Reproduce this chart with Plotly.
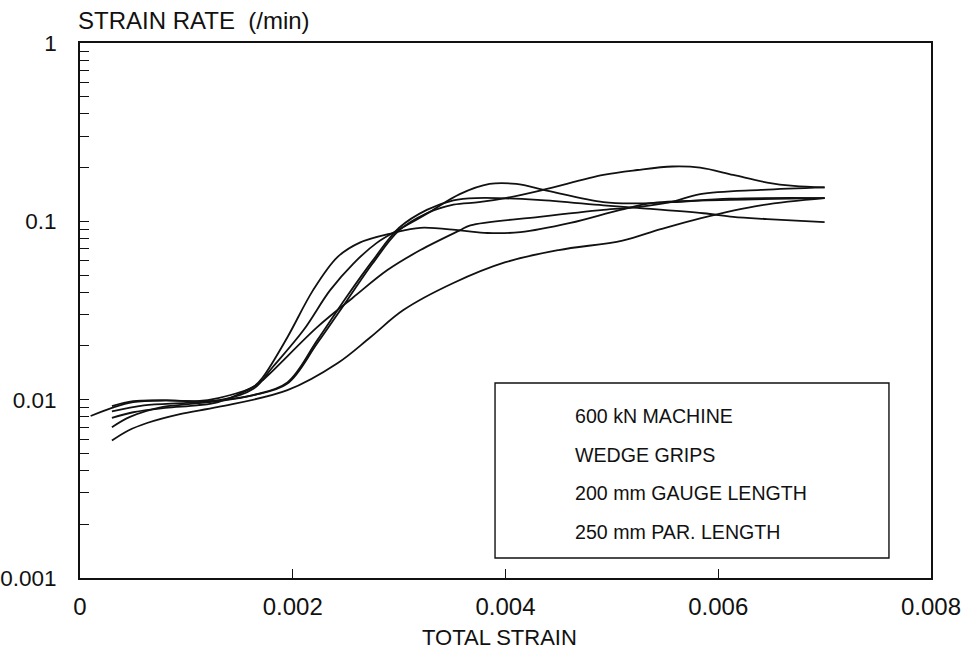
import plotly.graph_objects as go

# ---- data ----
c1_x = [0.0001, 0.0003, 0.0005, 0.0008, 0.0011, 0.0013, 0.00163, 0.00172, 0.00195, 0.00219, 0.00242, 0.00263, 0.00294, 0.0032, 0.00357, 0.00383, 0.00414, 0.00461, 0.00508, 0.00539, 0.00611, 0.007]
c1_y = [0.0081, 0.0090, 0.0097, 0.0099, 0.0098, 0.0102, 0.0118, 0.0134, 0.0224, 0.041, 0.063, 0.076, 0.086, 0.092, 0.089, 0.086, 0.087, 0.098, 0.116, 0.127, 0.132, 0.135]

p2_x = [0.0003, 0.0005, 0.0008, 0.0013, 0.00163, 0.00181, 0.0021, 0.00235, 0.00257, 0.00279, 0.00307, 0.00329, 0.00357, 0.00385, 0.00410, 0.00440, 0.00492, 0.00524, 0.00557, 0.00611, 0.007]
p2_y = [0.0092, 0.0098, 0.0099, 0.0099, 0.0115, 0.0152, 0.0245, 0.041, 0.058, 0.0757, 0.095, 0.113, 0.142, 0.162, 0.162, 0.148, 0.128, 0.126, 0.128, 0.134, 0.135]

p1_x = [0.0003, 0.0006, 0.001, 0.0013, 0.00163, 0.00195, 0.00223, 0.00251, 0.00275, 0.003, 0.00326, 0.00351, 0.00375, 0.0040, 0.00435, 0.00492, 0.00524, 0.00557, 0.00583, 0.00614, 0.00646, 0.00671, 0.007]
p1_y = [0.0086, 0.0093, 0.0096, 0.0099, 0.0106, 0.0123, 0.0207, 0.036, 0.058, 0.089, 0.111, 0.124, 0.128, 0.135, 0.150, 0.182, 0.194, 0.203, 0.200, 0.182, 0.165, 0.158, 0.155]

e_x = [0.0003, 0.00047, 0.00078, 0.001, 0.0013, 0.00163, 0.00195, 0.00223, 0.00251, 0.00275, 0.003, 0.00326, 0.00351, 0.00372, 0.0043, 0.00492, 0.00524, 0.00586, 0.00614, 0.00646, 0.007]
e_y = [0.0070, 0.0080, 0.0091, 0.0094, 0.0098, 0.0106, 0.0125, 0.0215, 0.038, 0.060, 0.092, 0.116, 0.131, 0.135, 0.132, 0.123, 0.119, 0.111, 0.106, 0.103, 0.099]

f_x = [0.0003, 0.0005, 0.0008, 0.0011, 0.0013, 0.00163, 0.00172, 0.00223, 0.00257, 0.00289, 0.0032, 0.00357, 0.00367, 0.00432, 0.00492, 0.00524, 0.00555, 0.00583, 0.0064, 0.007]
f_y = [0.0079, 0.0085, 0.0090, 0.0093, 0.0097, 0.0118, 0.0129, 0.0255, 0.0375, 0.0533, 0.069, 0.089, 0.095, 0.106, 0.116, 0.120, 0.128, 0.142, 0.150, 0.155]

low_x = [0.0003, 0.00045, 0.00063, 0.00094, 0.0013, 0.00195, 0.00242, 0.00273, 0.00304, 0.00351, 0.0040, 0.0045, 0.0051, 0.00545, 0.00583, 0.0064, 0.007]
low_y = [0.0059, 0.0067, 0.0074, 0.0083, 0.0091, 0.0113, 0.016, 0.0224, 0.0318, 0.0451, 0.059, 0.069, 0.078, 0.090, 0.104, 0.123, 0.135]

x_ticks = [0, 0.002, 0.004, 0.006, 0.008]
x_tick_labels = ["0", "0.002", "0.004", "0.006", "0.008"]
y_ticks = [0.001, 0.01, 0.1, 1]
y_tick_labels = ["0.001", "0.01", "0.1", "1"]
note_lines = ["600 kN MACHINE", "WEDGE GRIPS", "200 mm GAUGE LENGTH", "250 mm PAR. LENGTH"]

FONT = "Liberation Sans, Arial, Helvetica, sans-serif"
INK = "#111111"

fig = go.Figure()
for xs, ys in [(c1_x, c1_y), (p2_x, p2_y), (p1_x, p1_y), (e_x, e_y), (f_x, f_y), (low_x, low_y)]:
    fig.add_trace(go.Scatter(x=xs, y=ys, mode="lines",
                             line=dict(color=INK, width=1.8, shape="spline", smoothing=1.0),
                             showlegend=False, hoverinfo="skip"))

fig.update_layout(
    width=963, height=658,
    margin=dict(l=80, r=32, t=43, b=80, autoexpand=False),
    paper_bgcolor="white", plot_bgcolor="white",
    font=dict(family=FONT, color=INK, size=24),
    showlegend=False,
)
fig.update_xaxes(
    range=[0, 0.008], tickvals=x_ticks, ticktext=x_tick_labels,
    ticks="inside", ticklen=9, tickwidth=1.3, tickcolor=INK,
    showline=True, linecolor=INK, linewidth=1.7, mirror=True,
    showgrid=False, zeroline=False, ticklabelstandoff=6, automargin=False,
    tickfont=dict(size=24, family=FONT, color=INK),
)
fig.update_yaxes(
    type="log", range=[-3, 0], tickvals=y_ticks, ticktext=y_tick_labels,
    ticks="inside", ticklen=9, tickwidth=1.3, tickcolor=INK,
    minor=dict(ticks="inside", ticklen=9, tickwidth=1.3, tickcolor=INK, dtick="D1", showgrid=False),
    showline=True, linecolor=INK, linewidth=1.7, mirror=True,
    showgrid=False, zeroline=False, ticklabelstandoff=17, automargin=False,
    tickfont=dict(size=22.5, family=FONT, color=INK),
)

# axis titles
fig.add_annotation(text="STRAIN RATE  (/min)", xref="paper", yref="paper",
                   x=0.0, y=1.0, yshift=23, xshift=-4, xanchor="left", yanchor="middle",
                   showarrow=False, font=dict(size=24, family=FONT, color=INK))
fig.add_annotation(text="TOTAL STRAIN", xref="paper", yref="paper",
                   x=0.493, y=-0.112, xanchor="center", yanchor="middle",
                   showarrow=False, font=dict(size=22, family=FONT, color=INK))

# note box
fig.add_shape(type="rect", xref="paper", yref="paper",
              x0=0.4877, x1=0.9506, y0=0.0374, y1=0.3645,
              line=dict(color=INK, width=1.4), fillcolor="rgba(0,0,0,0)")
note_y = [0.3028, 0.2299, 0.1589, 0.086]
for t, yy in zip(note_lines, note_y):
    fig.add_annotation(text=t, xref="paper", yref="paper", x=0.5793, y=yy,
                       xanchor="left", yanchor="middle", showarrow=False,
                       font=dict(size=19.6, family=FONT, color=INK))

fig.write_html("out.html", config={"displayModeBar": False},
               post_script="document.body.style.margin='0';document.body.style.overflow='hidden';")
